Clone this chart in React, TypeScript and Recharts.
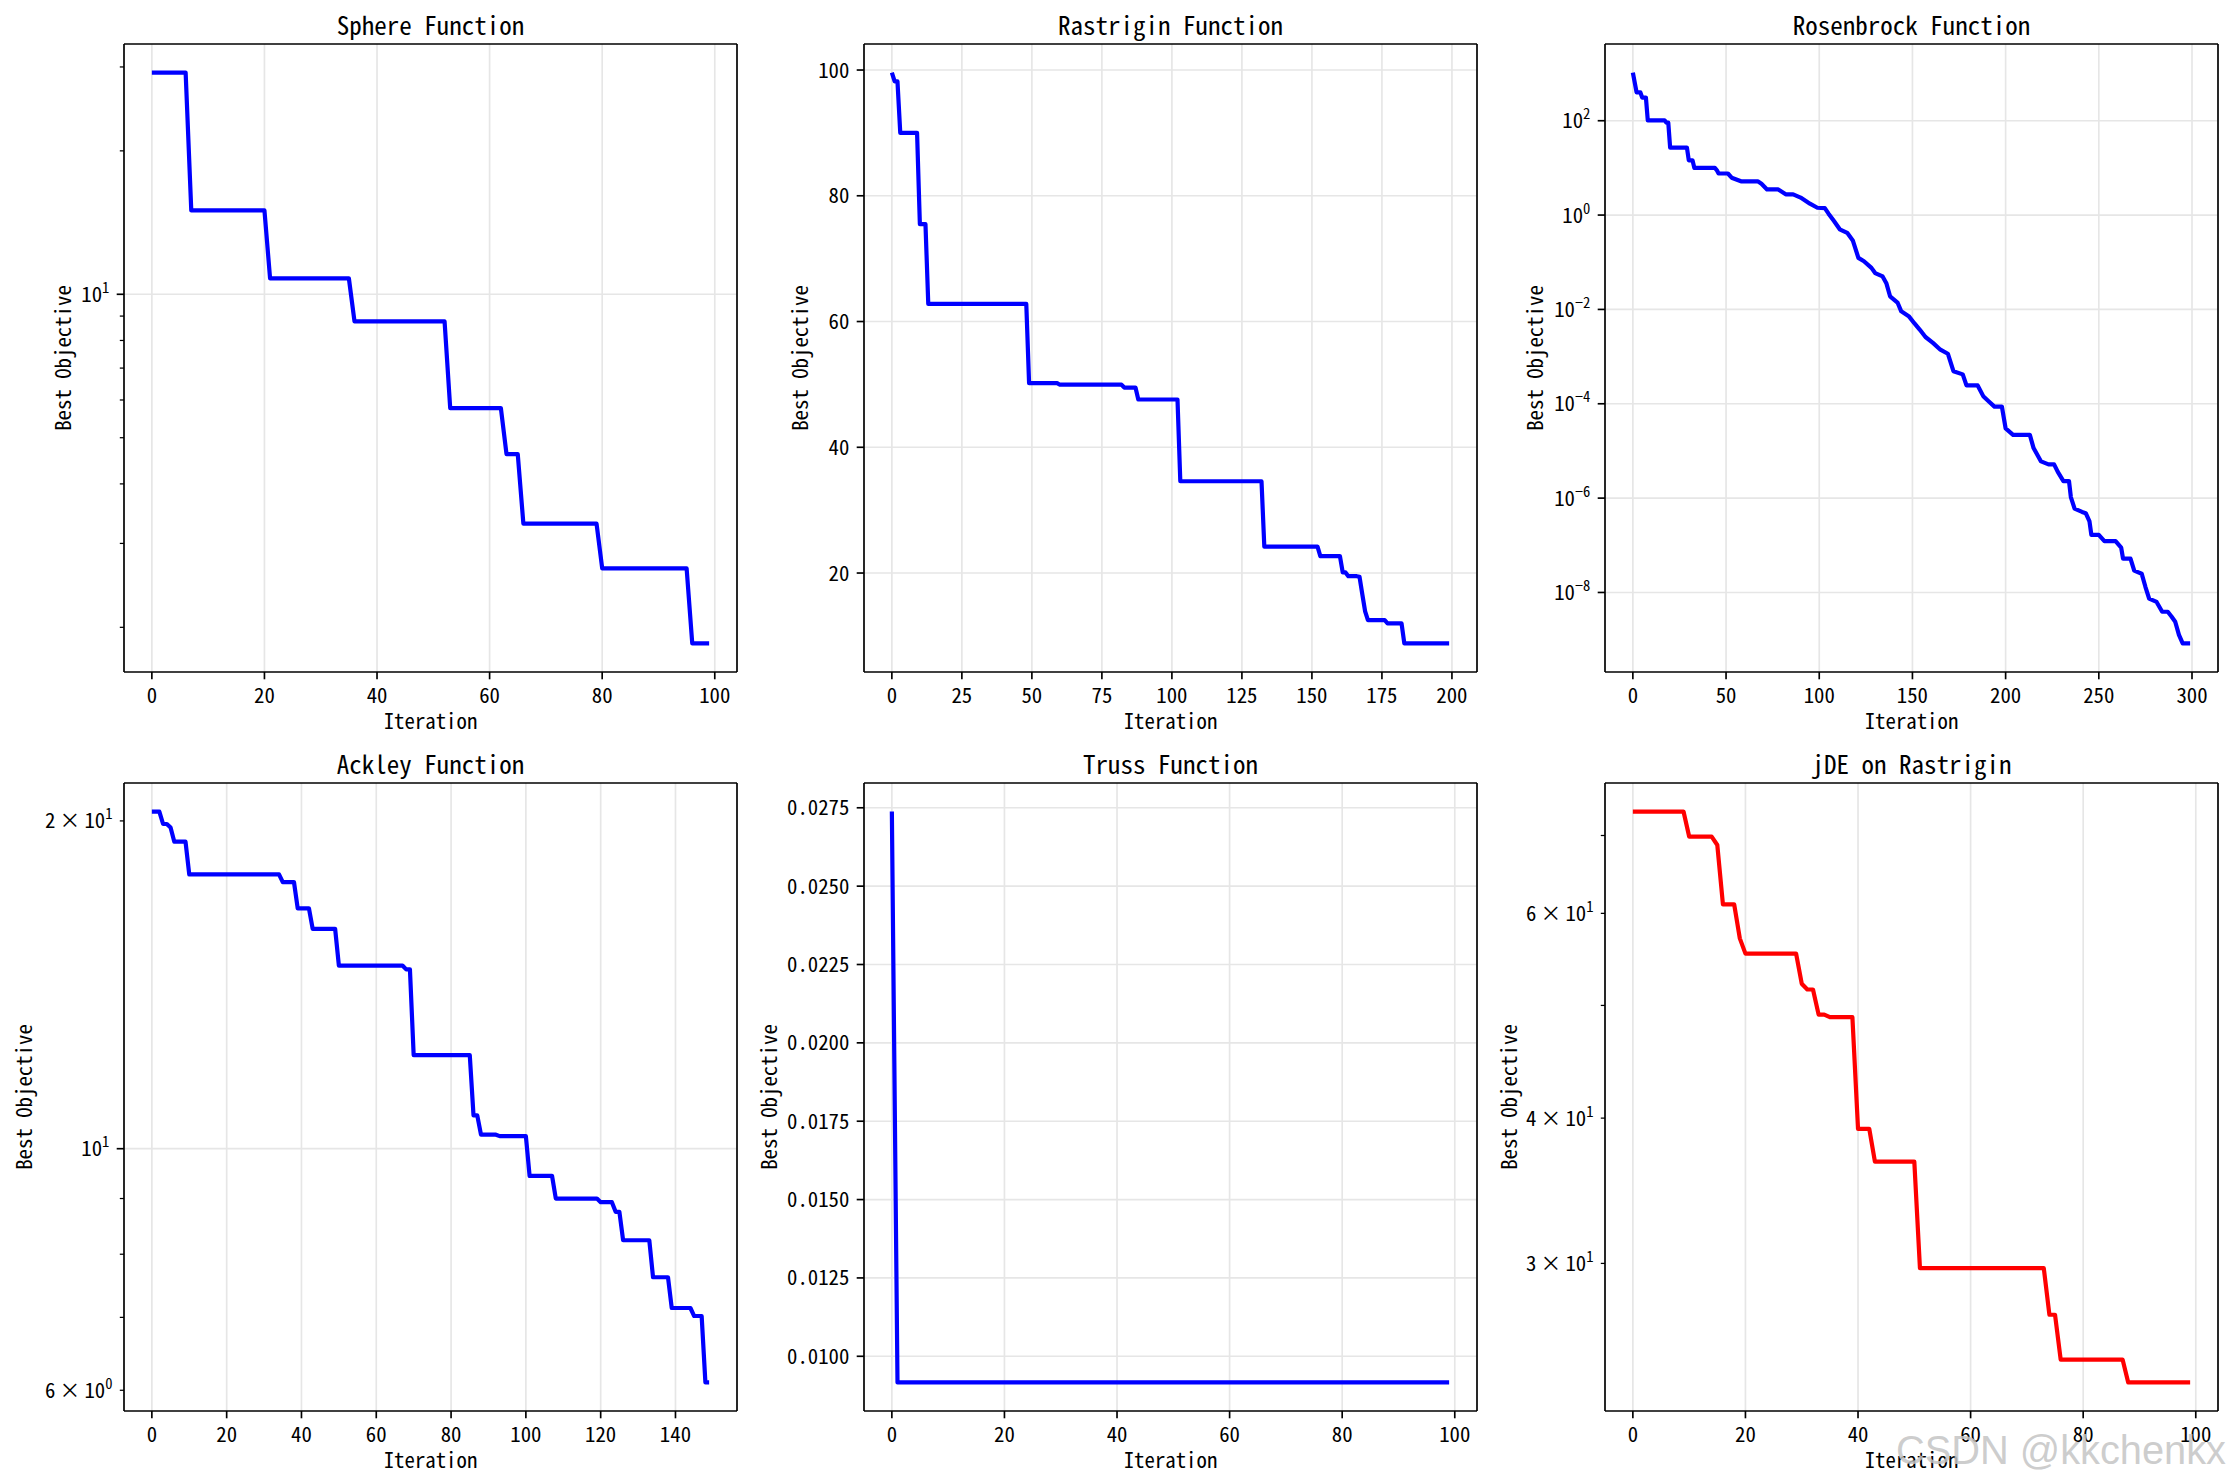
import React from "react";
import { CartesianGrid, Label, Line, LineChart, ReferenceLine, XAxis, YAxis } from "recharts";

const FONT = "'Noto Sans Mono CJK SC', 'Noto Sans Mono CJK JP', 'DejaVu Sans Mono', monospace";

// Best objective per iteration. Only the iterations where the curve bends are listed,
// flat stretches between them are straight lines anyway.
const sphereIter = [0, 6, 7, 20, 21, 35, 36, 52, 53, 62, 63, 65, 66, 79, 80, 95, 96, 99];
const sphereBest = [29.2, 29.2, 15.0, 15.0, 10.8, 10.8, 8.77, 8.77, 5.77, 5.77, 4.62, 4.62, 3.3, 3.3, 2.66, 2.66, 1.85, 1.85];

const rastriginIter = [0, 1, 2, 3, 9, 10, 12, 13, 48, 49, 59, 60, 82, 83, 87, 88, 102, 103, 132, 133, 152, 153, 160, 161, 162, 163, 166, 167, 168, 169, 170, 176, 177, 182, 183, 199];
const rastriginBest = [99.6, 98.2, 98.2, 90.0, 90.0, 75.5, 75.5, 62.8, 62.8, 50.2, 50.2, 49.95, 49.95, 49.5, 49.5, 47.6, 47.6, 34.6, 34.6, 24.2, 24.2, 22.7, 22.7, 20.1, 20.1, 19.5, 19.5, 19.4, 16.6, 13.9, 12.5, 12.5, 12.0, 12.0, 8.8, 8.8];

const rosenIter = [0, 2, 4, 5, 7, 8, 17, 18, 19, 20, 29, 30, 32, 33, 44, 45, 46, 51, 53, 58, 67, 69, 72, 78, 82, 86, 90, 95, 99, 103, 105, 108, 111, 115, 118, 121, 124, 128, 130, 134, 136, 138, 142, 144, 148, 151, 154, 157, 161, 165, 169, 172, 177, 179, 185, 188, 191, 194, 198, 200, 204, 213, 215, 219, 223, 226, 228, 231, 234, 235, 237, 241, 243, 245, 246, 250, 253, 259, 262, 263, 267, 269, 273, 275, 277, 281, 284, 287, 289, 291, 293, 295, 299];
const rosenBest = [1050, 400, 400, 310, 310, 102, 102, 91, 91, 27, 27, 14.5, 14.5, 10, 10, 9.0, 7.6, 7.6, 6.2, 5.2, 5.2, 4.6, 3.5, 3.5, 2.75, 2.75, 2.35, 1.74, 1.43, 1.4, 1.07, 0.74, 0.5, 0.42, 0.29, 0.124, 0.105, 0.076, 0.059, 0.05, 0.036, 0.019, 0.014, 0.0091, 0.0072, 0.0051, 0.0037, 0.0026, 0.00195, 0.0014, 0.00115, 0.00049, 0.00042, 0.000245, 0.000245, 0.000145, 0.000112, 0.000087, 0.000087, 0.00003, 0.0000219, 0.0000219, 0.0000115, 0.000006, 0.0000052, 0.0000052, 0.0000036, 0.0000023, 0.0000023, 0.00000105, 6.0e-7, 5.1e-7, 4.8e-7, 3.2e-7, 1.66e-7, 1.66e-7, 1.23e-7, 1.23e-7, 8.9e-8, 5.2e-8, 5.2e-8, 2.9e-8, 2.5e-8, 1.32e-8, 7.4e-9, 6.3e-9, 3.9e-9, 3.9e-9, 3.1e-9, 2.4e-9, 1.26e-9, 8.3e-10, 8.3e-10];

const ackleyIter = [0, 2, 3, 4, 5, 6, 9, 10, 34, 35, 38, 39, 42, 43, 49, 50, 67, 68, 69, 70, 85, 86, 87, 88, 92, 93, 100, 101, 107, 108, 119, 120, 123, 124, 125, 126, 133, 134, 138, 139, 144, 145, 147, 148, 149];
const ackleyBest = [20.4, 20.4, 19.87, 19.87, 19.72, 19.14, 19.14, 17.86, 17.86, 17.57, 17.57, 16.62, 16.62, 15.92, 15.92, 14.73, 14.73, 14.61, 14.61, 12.19, 12.19, 10.73, 10.73, 10.3, 10.3, 10.27, 10.27, 9.44, 9.44, 9.0, 9.0, 8.93, 8.93, 8.75, 8.75, 8.24, 8.24, 7.62, 7.62, 7.14, 7.14, 7.02, 7.02, 6.1, 6.1];

const trussIter = [0, 1, 99];
const trussBest = [0.02738, 0.009165, 0.009165];

const jdeIter = [0, 9, 10, 14, 15, 16, 18, 19, 20, 29, 30, 31, 32, 33, 34, 35, 39, 40, 42, 43, 50, 51, 73, 74, 75, 76, 87, 88, 99];
const jdeBest = [73.4, 73.4, 69.85, 69.85, 68.7, 61.07, 61.07, 57.1, 55.4, 55.4, 52.2, 51.6, 51.6, 49.1, 49.1, 48.85, 48.85, 39.15, 39.15, 36.7, 36.7, 29.72, 29.72, 27.1, 27.1, 24.8, 24.8, 23.7, 23.7];

// tick values and labels ("^" marks the exponent)
const xTicks100 = [0, 20, 40, 60, 80, 100];
const xTicks200 = [0, 25, 50, 75, 100, 125, 150, 175, 200];
const xTicks300 = [0, 50, 100, 150, 200, 250, 300];
const xTicks140 = [0, 20, 40, 60, 80, 100, 120, 140];

const sphereYTicks = [2, 3, 4, 5, 6, 7, 8, 9, 10, 20, 30];
const sphereYLabels = ["", "", "", "", "", "", "", "", "10^1", "", ""];
const sphereYMajor = [10];

const rastriginYTicks = [20, 40, 60, 80, 100];
const rastriginYLabels = ["20", "40", "60", "80", "100"];

const rosenYTicks = [1e-8, 1e-6, 1e-4, 1e-2, 1, 1e2];
const rosenYLabels = ["10^\u22128", "10^\u22126", "10^\u22124", "10^\u22122", "10^0", "10^2"];

const ackleyYTicks = [6, 7, 8, 9, 10, 20];
const ackleyYLabels = ["6\u2009\u00d7\u200910^0", "", "", "", "10^1", "2\u2009\u00d7\u200910^1"];
const ackleyYMajor = [10];

const trussYTicks = [0.01, 0.0125, 0.015, 0.0175, 0.02, 0.0225, 0.025, 0.0275];
const trussYLabels = ["0.0100", "0.0125", "0.0150", "0.0175", "0.0200", "0.0225", "0.0250", "0.0275"];

const jdeYTicks = [30, 40, 50, 60, 70];
const jdeYLabels = ["3\u2009\u00d7\u200910^1", "4\u2009\u00d7\u200910^1", "", "6\u2009\u00d7\u200910^1", ""];
const jdeYMajor: number[] = [];

const AXIS_W = 130;
const MARGIN_TOP = 50;
const MARGIN_RIGHT = 14;
const AXIS_H = 80;
const PLOT_W = 613;
const PLOT_H = 628;
const GRID = "#e6e6e6";
const SPINE = { stroke: "#000", strokeWidth: 1.67 };

type PanelSpec = {
  title: string;
  iters: number[];
  values: number[];
  color: string;
  log: boolean;
  xTicks: number[];
  yTicks: number[];
  yLabels: string[];
  yMajor: number[];
  yLabelDx: number;
  left: number;
  top: number;
};

function pad(values: number[], log: boolean): [number, number] {
  const lo = Math.min(...values);
  const hi = Math.max(...values);
  if (log) {
    const a = Math.log10(lo);
    const b = Math.log10(hi);
    const m = (b - a) * 0.05;
    return [Math.pow(10, a - m), Math.pow(10, b + m)];
  }
  const m = (hi - lo) * 0.05;
  return [lo - m, hi + m];
}

function YTick(props: any) {
  const { x, y, payload, spec } = props;
  const v = payload.value;
  const idx = spec.yTicks.indexOf(v);
  const label: string = idx >= 0 ? spec.yLabels[idx] : "";
  const major = spec.yMajor.includes(v);
  const len = major ? 7.3 : 4.2;
  const [base, exp] = label.split("^");
  return (
    <g>
      <line x1={x} x2={x - len} y1={y} y2={y} stroke="#000" strokeWidth={major ? 1.67 : 1.25} />
      {label && (
        <text x={x - len - 7.3} y={y} dy="0.36em" textAnchor="end" fontFamily={FONT} fontSize={20.8} fill="#000">
          {base}
          {exp !== undefined && (
            <tspan fontSize={14.6} dy="-0.62em">
              {exp}
            </tspan>
          )}
        </text>
      )}
    </g>
  );
}

function Panel({ spec }: { spec: PanelSpec }) {
  const data = spec.iters.map((it, i) => ({ iter: it, best: spec.values[i] }));
  const xDomain = pad(spec.iters, false);
  const yDomain = pad(spec.values, spec.log);
  const scale = spec.log ? "log" : "linear";

  const xLabel = (p: any) => {
    const vb = p.viewBox || {};
    return (
      <text x={vb.x + vb.width / 2} y={vb.y + 48} textAnchor="middle" dominantBaseline="central" fontFamily={FONT} fontSize={20.8} fill="#000">
        Iteration
      </text>
    );
  };
  const yLabel = (p: any) => {
    const vb = p.viewBox || {};
    const cx = vb.x + vb.width + spec.yLabelDx;
    const cy = vb.y + vb.height / 2;
    return (
      <text x={cx} y={cy} transform={`rotate(-90 ${cx} ${cy})`} textAnchor="middle" dominantBaseline="central" fontFamily={FONT} fontSize={20.8} fill="#000">
        Best Objective
      </text>
    );
  };

  return (
    <div style={{ position: "absolute", left: spec.left - AXIS_W, top: spec.top - MARGIN_TOP }}>
      <div
        style={{
          position: "absolute",
          left: AXIS_W,
          top: MARGIN_TOP - 20.5 - 15,
          width: PLOT_W,
          height: 30,
          lineHeight: "30px",
          textAlign: "center",
          fontFamily: FONT,
          fontSize: 25,
          color: "#000",
          whiteSpace: "nowrap",
        }}
      >
        {spec.title}
      </div>
      <LineChart
        width={AXIS_W + PLOT_W + MARGIN_RIGHT}
        height={MARGIN_TOP + PLOT_H + AXIS_H}
        data={data}
        margin={{ top: MARGIN_TOP, right: MARGIN_RIGHT, bottom: 0, left: 0 }}
      >
        <CartesianGrid horizontal={false} stroke={GRID} strokeWidth={1.67} />
        {spec.yMajor.map((v) => (
          <ReferenceLine key={v} y={v} stroke={GRID} strokeWidth={1.67} />
        ))}
        <XAxis
          dataKey="iter"
          type="number"
          domain={xDomain}
          allowDataOverflow
          ticks={spec.xTicks}
          interval={0}
          height={AXIS_H}
          tickSize={7.3}
          tickMargin={8.5}
          tickLine={SPINE}
          axisLine={SPINE}
          tick={{ fill: "#000", fontSize: 20.8, fontFamily: FONT }}
        >
          <Label content={xLabel} />
        </XAxis>
        <YAxis
          type="number"
          scale={scale}
          domain={yDomain}
          allowDataOverflow
          ticks={spec.yTicks}
          interval={0}
          width={AXIS_W}
          tickSize={0}
          tickMargin={0}
          tickLine={false}
          axisLine={SPINE}
          tick={(p: any) => <YTick {...p} spec={spec} />}
        >
          <Label content={yLabel} />
        </YAxis>
        <Line
          type="linear"
          dataKey="best"
          stroke={spec.color}
          strokeWidth={4.2}
          strokeLinejoin="round"
          dot={false}
          activeDot={false}
          isAnimationActive={false}
        />
        {/* top and right spines */}
        <ReferenceLine y={yDomain[1]} ifOverflow="visible" stroke="#000" strokeWidth={1.67} />
        <ReferenceLine x={xDomain[1]} ifOverflow="visible" stroke="#000" strokeWidth={1.67} />
      </LineChart>
    </div>
  );
}

const panels: PanelSpec[] = [
  { title: "Sphere Function", iters: sphereIter, values: sphereBest, color: "#0000ff", log: true, xTicks: xTicks100, yTicks: sphereYTicks, yLabels: sphereYLabels, yMajor: sphereYMajor, yLabelDx: -62, left: 124, top: 44 },
  { title: "Rastrigin Function", iters: rastriginIter, values: rastriginBest, color: "#0000ff", log: false, xTicks: xTicks200, yTicks: rastriginYTicks, yLabels: rastriginYLabels, yMajor: rastriginYTicks, yLabelDx: -65, left: 864, top: 44 },
  { title: "Rosenbrock Function", iters: rosenIter, values: rosenBest, color: "#0000ff", log: true, xTicks: xTicks300, yTicks: rosenYTicks, yLabels: rosenYLabels, yMajor: rosenYTicks, yLabelDx: -71, left: 1605, top: 44 },
  { title: "Ackley Function", iters: ackleyIter, values: ackleyBest, color: "#0000ff", log: true, xTicks: xTicks140, yTicks: ackleyYTicks, yLabels: ackleyYLabels, yMajor: ackleyYMajor, yLabelDx: -101, left: 124, top: 783 },
  { title: "Truss Function", iters: trussIter, values: trussBest, color: "#0000ff", log: false, xTicks: xTicks100, yTicks: trussYTicks, yLabels: trussYLabels, yMajor: trussYTicks, yLabelDx: -96, left: 864, top: 783 },
  { title: "jDE on Rastrigin", iters: jdeIter, values: jdeBest, color: "#ff0000", log: true, xTicks: xTicks100, yTicks: jdeYTicks, yLabels: jdeYLabels, yMajor: jdeYMajor, yLabelDx: -97, left: 1605, top: 783 },
];

export default function App() {
  return (
    <div style={{ position: "absolute", left: 0, top: 0, width: 2234, height: 1484, background: "#fff", overflow: "hidden" }}>
      {panels.map((p) => (
        <Panel key={p.title} spec={p} />
      ))}
      <svg width={2234} height={1484} style={{ position: "absolute", left: 0, top: 0, pointerEvents: "none" }}>
        <text x={1896} y={1464} fontFamily="'Liberation Sans', Arial, sans-serif" fontSize={41} fill="#c4c4c4" fillOpacity={0.85} textLength={330} lengthAdjust="spacingAndGlyphs">
          CSDN @kkchenkx
        </text>
      </svg>
    </div>
  );
}
